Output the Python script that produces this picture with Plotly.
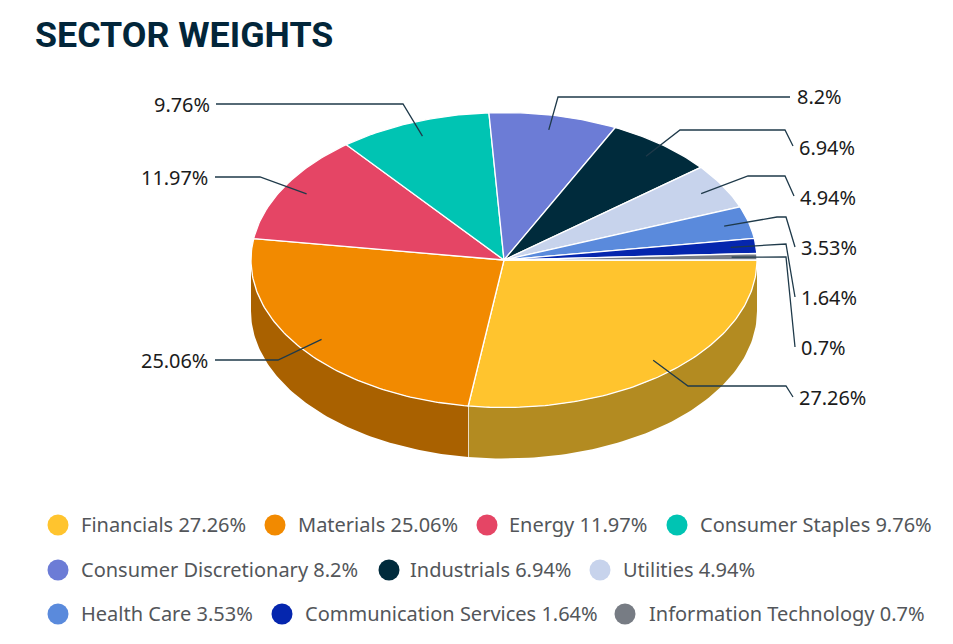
import numpy as np
import plotly.graph_objects as go

categories = ["Financials", "Materials", "Energy", "Consumer Staples", "Consumer Discretionary",
              "Industrials", "Utilities", "Health Care", "Communication Services", "Information Technology"]
weights = [27.26, 25.06, 11.97, 9.76, 8.2, 6.94, 4.94, 3.53, 1.64, 0.7]

colors = ["#FFC42E", "#F28A00", "#E54565", "#00C4B3", "#6C7CD6",
          "#002B3C", "#C7D3EC", "#5A8ADC", "#0526AE", "#777C84"]
wall_colors = {"Financials": "#B38B21", "Materials": "#A96100"}

# pixel layout of the drawing
CX, CY, RX, RY, DEPTH = 504, 260, 253, 147.5, 51
LABEL_RATIO = 0.9
elbows = [
    [(688, 386), (786, 386), (793, 397)],
    [(278, 360), (215, 360)],
    [(260, 177), (215, 177)],
    [(403, 104), (216, 104)],
    [(558, 97), (790, 97)],
    [(680, 130), (785, 130), (793, 146)],
    [(748, 176), (785, 176), (794, 196)],
    [(777, 217), (786, 217), (795, 247)],
    [(777, 244), (786, 244), (795, 297)],
    [(777, 257), (786, 257), (795, 347)],
]
label_pos = [(797, 397, "left"), (210, 360, "right"), (210, 177, "right"), (212, 104, "right"),
             (795, 96, "left"), (797, 147, "left"), (798, 197, "left"), (799, 247, "left"),
             (799, 297, "left"), (799, 347, "left")]
legend_dots = [(58, 525), (275, 525), (487, 525), (677, 525),
               (58, 570), (389, 570), (600, 570),
               (58, 614), (282, 614), (625, 614)]
legend_text_x = [79, 296, 507, 698, 79, 408, 621, 79, 303, 647]

frac = np.array(weights) / sum(weights)
ends = np.cumsum(frac) * 2 * np.pi
starts = np.concatenate([[0], ends[:-1]])


def pt(a, r=1.0):
    return CX + r * RX * np.cos(a), CY + r * RY * np.sin(a)


fig = go.Figure()

# side walls (only the front half of the ellipse is visible)
for name, col, s, e in zip(categories, colors, starts, ends):
    lo, hi = s, min(e, np.pi)
    if lo >= np.pi:
        continue
    t = np.linspace(lo, hi, 80)
    x, y = pt(t)
    xs = np.concatenate([x, x[::-1], x[:1]])
    ys = np.concatenate([y, y[::-1] + DEPTH, y[:1]])
    fig.add_trace(go.Scatter(x=xs, y=ys, mode="lines", fill="toself", fillcolor=wall_colors[name],
                             line=dict(color=wall_colors[name], width=0), hoverinfo="skip", showlegend=False))
    # white seam between the walls
    if hi < np.pi:
        sx, sy = pt(hi)
        fig.add_trace(go.Scatter(x=[sx, sx], y=[sy, sy + DEPTH], mode="lines",
                                 line=dict(color="white", width=1.5), hoverinfo="skip", showlegend=False))

# top faces
for name, w, col, s, e in zip(categories, weights, colors, starts, ends):
    t = np.linspace(s, e, max(8, int((e - s) * 60)))
    x, y = pt(t)
    fig.add_trace(go.Scatter(x=np.concatenate([[CX], x, [CX]]), y=np.concatenate([[CY], y, [CY]]),
                             mode="lines", fill="toself", fillcolor=col,
                             line=dict(color="white", width=1.3), name=name,
                             text=f"{name} {w}%", hoverinfo="text", showlegend=False))

# leader lines and value labels
annotations = []
for w, s, e, elbow, (lx, ly, anchor) in zip(weights, starts, ends, elbows, label_pos):
    ax, ay = pt((s + e) / 2, LABEL_RATIO)
    fig.add_trace(go.Scatter(x=[ax] + [p[0] for p in elbow], y=[ay] + [p[1] for p in elbow], mode="lines",
                             line=dict(color="#1F3A4A", width=1.3), hoverinfo="skip", showlegend=False))
    annotations.append(dict(x=lx, y=ly, text=f"{w}%", showarrow=False, xanchor=anchor, yanchor="middle",
                            font=dict(family="Noto Sans", size=19.9, color="#1B1B1B")))

# legend
for name, w, col, (dx, dy), tx in zip(categories, weights, colors, legend_dots, legend_text_x):
    fig.add_trace(go.Scatter(x=[dx], y=[dy], mode="markers", marker=dict(size=21, color=col),
                             hoverinfo="skip", showlegend=False))
    annotations.append(dict(x=tx, y=dy - 1, text=f"{name} {w}%", showarrow=False, xanchor="left", yanchor="middle",
                            font=dict(family="Noto Sans", size=20, color="#53565A")))

annotations.append(dict(x=33, y=35, text="<b>SECTOR WEIGHTS</b>", showarrow=False, xanchor="left", yanchor="middle",
                        font=dict(family="Roboto", size=35.8, color="#02263A")))

fig.update_layout(
    width=953, height=644, margin=dict(l=0, r=0, t=0, b=0),
    paper_bgcolor="white", plot_bgcolor="white", showlegend=False,
    xaxis=dict(range=[0, 953], visible=False, fixedrange=True),
    yaxis=dict(range=[644, 0], visible=False, fixedrange=True),
    annotations=annotations,
)
fig.write_html("out.html", config={"displayModeBar": False},
               post_script="document.body.style.margin='0';document.body.style.overflow='hidden';")
